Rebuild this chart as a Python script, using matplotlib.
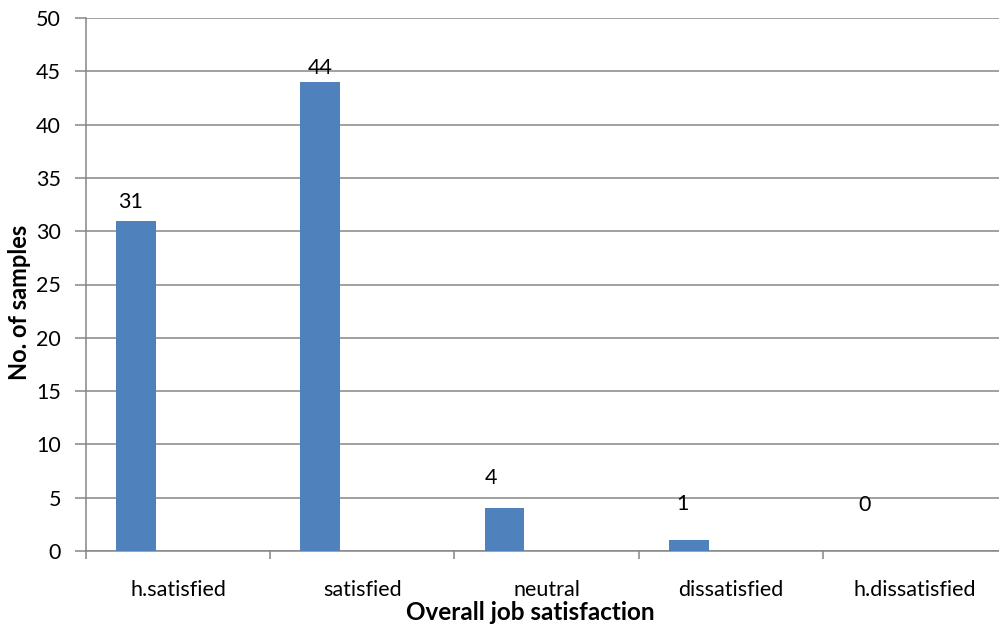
import matplotlib.pyplot as plt
import numpy as np

categories = ['h.satisfied', 'satisfied', 'neutral', 'dissatisfied', 'h.dissatisfied']
samples = [31, 44, 4, 1, 0]

# label nudges in pixels (dx, gap above bar)
label_dx = [-6, 0, -14, -6, -8]
label_dy = [9, 4, 20, 26, 36]

plt.rcParams['font.family'] = ['Lato', 'DejaVu Sans']

fig = plt.figure(figsize=(9.99, 6.25), dpi=100)
W, H = 999, 625
ax = fig.add_axes([86 / W, (H - 551) / H, (1007 - 86) / W, (551 - 18) / H])

grey = '#868686'
fs = 15.5
x = np.arange(len(categories))
bars = ax.bar(x - 0.228, samples, width=0.217, color='#4F81BD', zorder=3)

for b, v, dx, dy in zip(bars, samples, label_dx, label_dy):
    ax.annotate(str(v), (b.get_x() + b.get_width() / 2, v),
                xytext=(dx * 0.72, dy * 0.72), textcoords='offset points',
                ha='center', va='bottom', fontsize=fs, color='black')

ax.set_xlim(-0.5, len(categories) - 0.5)
ax.set_ylim(0, 50)
ax.set_yticks(np.arange(0, 51, 5))
ax.yaxis.grid(True, color=grey, linewidth=1.1)
ax.set_axisbelow(True)

# category boundaries carry the tick marks, names sit in between
ax.set_xticks(np.arange(len(categories) + 1) - 0.5)
ax.set_xticklabels([])
ax.set_xticks(x, minor=True)
ax.set_xticklabels(categories, minor=True, fontsize=fs)
ax.tick_params(axis='x', which='major', length=6, width=1.1, color=grey, direction='out')
ax.tick_params(axis='x', which='minor', length=0, pad=21)
ax.tick_params(axis='y', length=8, width=1.1, color=grey, labelsize=fs, pad=10)

for s in ['top', 'right']:
    ax.spines[s].set_visible(False)
for s in ['left', 'bottom']:
    ax.spines[s].set_color(grey)
    ax.spines[s].set_linewidth(1.1)

fig.text(20 / W, 1 - 302 / H, 'No. of samples', rotation=90, ha='center', va='center',
         fontsize=17, fontweight='bold')
fig.text(530 / W, 1 - 613 / H, 'Overall job satisfaction', ha='center', va='center',
         fontsize=17.5, fontweight='bold')

fig.savefig('out.png', dpi=100)
